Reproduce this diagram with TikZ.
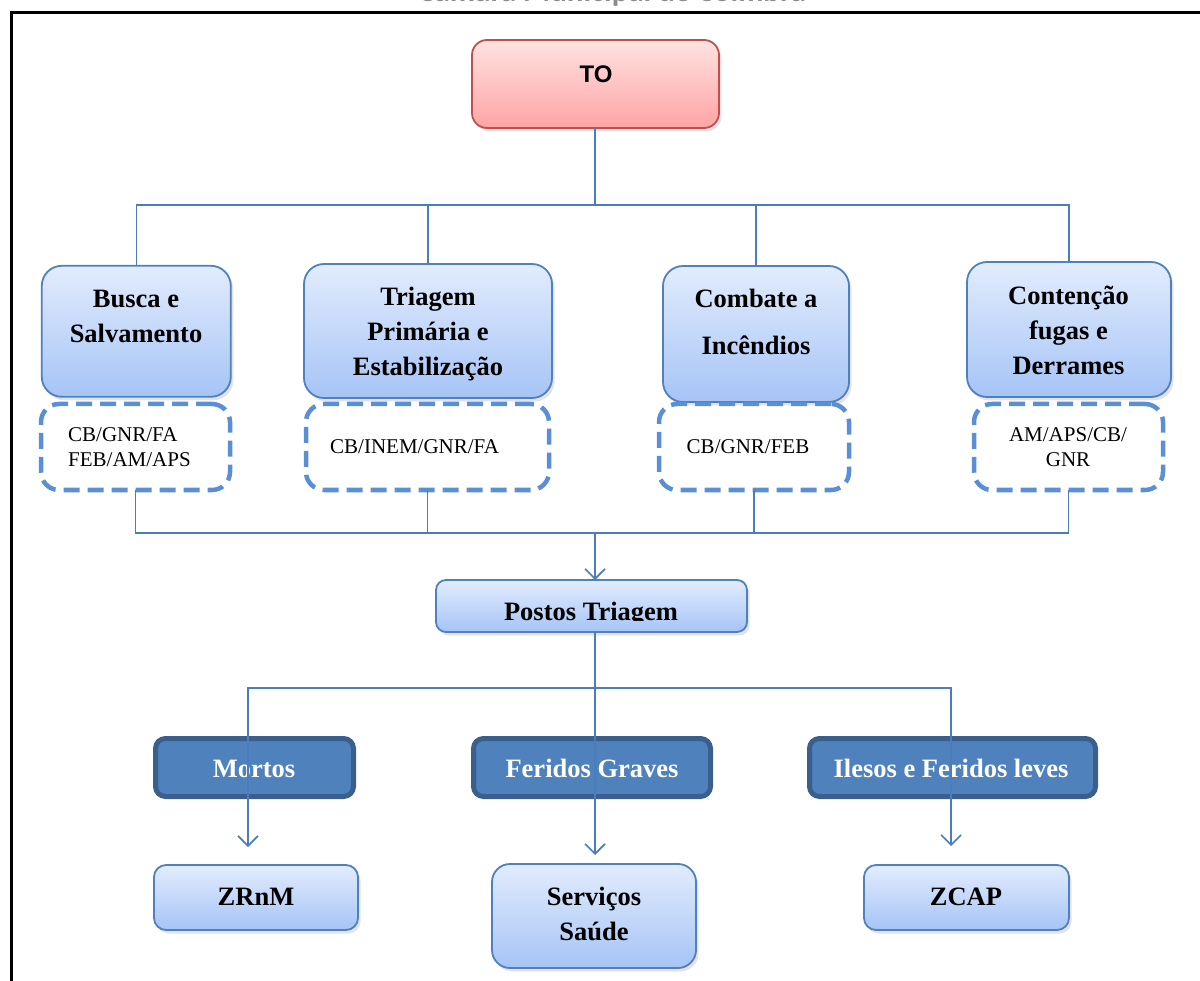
\documentclass[tikz,border=0pt]{standalone}
\usepackage{fontspec}
\setmainfont{Liberation Serif}
\newfontfamily\arialfont{Liberation Sans}
\newfontfamily\calfont{Carlito}
\usetikzlibrary{arrows.meta,shadows}

\definecolor{boxtop}{HTML}{E2ECFD}
\definecolor{boxbot}{HTML}{A6C4F6}
\definecolor{edgeblue}{HTML}{4F81BD}
\definecolor{pinktop}{HTML}{FFE2E2}
\definecolor{pinkbot}{HTML}{FFA4A4}
\definecolor{pinkedge}{HTML}{C0504D}
\definecolor{dashblue}{HTML}{5A8FD6}
\definecolor{darkfill}{HTML}{4F81BD}
\definecolor{darkedge}{HTML}{3A5F8C}
\definecolor{linkblue}{HTML}{4A7EBB}
\definecolor{titlegray}{HTML}{8C8C8C}

% multi-line text whose reference point is the baseline of the first line
\newcommand\clines[1]{\begin{tabular}[t]{@{}c@{}}#1\end{tabular}}
\newcommand\llines[1]{\begin{tabular}[t]{@{}l@{}}#1\end{tabular}}

\begin{document}
\begin{tikzpicture}[x=1pt,y=-1pt,
  softshadow/.style={drop shadow={shadow xshift=2.5pt,shadow yshift=-3.5pt,opacity=0.22}},
  lbox/.style={draw=edgeblue,line width=1.8pt,rounded corners=#1,
    top color=boxtop,bottom color=boxbot,softshadow,inner sep=0pt,outer sep=0pt},
  tobox/.style={draw=pinkedge,line width=1.8pt,rounded corners=15,
    top color=pinktop,bottom color=pinkbot,softshadow,inner sep=0pt,outer sep=0pt},
  dashbox/.style={draw=dashblue,line width=4.5pt,dash pattern=on 16pt off 8pt,
    rounded corners=18,inner sep=0pt,outer sep=0pt},
  dkbox/.style={draw=darkedge,fill=darkfill,line width=5pt,rounded corners=10,
    inner sep=0pt,outer sep=0pt},
  btxt/.style={anchor=base,inner sep=0pt,font=\bfseries\fontsize{26.5}{35}\selectfont},
  wtxt/.style={btxt,text=white},
  stxt/.style={anchor=base,inner sep=0pt,font=\fontsize{21}{25}\selectfont},
  conn/.style={draw=linkblue,line width=1.6pt},
  arr/.style={conn,-{Straight Barb[length=10pt,width=20pt]}}
]
\useasboundingbox (0,0) rectangle (1200,981);
\clip (0,0) rectangle (1200,981);

% heading above the frame, cut by the page edge
\node[anchor=base,inner sep=0pt,text=titlegray,font=\calfont\bfseries\fontsize{31}{31}\selectfont]
  (title) at (612,2) {Câmara Municipal de Coimbra};

% frame
\draw[line width=3pt] (11,990) -- (11,13) -- (1210,13);

% top box
\node[tobox,minimum width=247,minimum height=88] (to) at (595.5,84) {};
\node[btxt,font=\arialfont\bfseries\fontsize{24}{28}\selectfont] (toT) at (596,83) {TO};

% task boxes
\node[lbox=20,minimum width=189,minimum height=131] (busca) at (136.3,331.3) {};
\node[btxt] (buscaT) at (136,308) {\clines{Busca e\\Salvamento}};

\node[lbox=20,minimum width=248,minimum height=134] (triagem) at (428,331) {};
\node[btxt] (triagemT) at (428,306) {\clines{Triagem\\Primária e\\Estabilização}};

\node[lbox=20,minimum width=186,minimum height=136] (combate) at (756,334) {};
\node[btxt] (combateT) at (756,308) {\clines{Combate a\\[12pt]Incêndios}};

\node[lbox=20,minimum width=204,minimum height=135] (contencao) at (1069,329.5) {};
\node[btxt] (contencaoT) at (1068.5,305) {\clines{Contenção\\fugas e\\Derrames}};

% agencies
\node[dashbox,minimum width=189,minimum height=86] (buscaD) at (135.5,447) {};
\node[stxt,anchor=base west] (buscaDT) at (68,441.7) {\llines{CB/GNR/FA\\FEB/AM/APS}};

\node[dashbox,minimum width=243,minimum height=86] (triagemD) at (427.5,447) {};
\node[stxt,anchor=base west] (triagemDT) at (330,454) {CB/INEM/GNR/FA};

\node[dashbox,minimum width=190,minimum height=86] (combateD) at (754,447) {};
\node[stxt] (combateDT) at (748,454) {CB/GNR/FEB};

\node[dashbox,minimum width=189,minimum height=86] (contencaoD) at (1068.5,447) {};
\node[stxt] (contencaoDT) at (1068,441.7) {\clines{AM/APS/CB/\\GNR}};

% triage posts
\node[lbox=10,minimum width=311,minimum height=52] (postos) at (591.5,606) {};
\begin{scope}
  \clip (436,578) rectangle (747,620.5);
  \node[btxt] (postosT) at (591,620) {Postos Triagem};
\end{scope}

% victim categories
\node[dkbox,minimum width=198,minimum height=58] (mortos) at (254.5,767.5) {};
\node[wtxt] (mortosT) at (254,777) {Mortos};
\node[dkbox,minimum width=237,minimum height=58] (feridos) at (592,767.5) {};
\node[wtxt] (feridosT) at (592,777) {Feridos Graves};
\node[dkbox,minimum width=286,minimum height=58] (ilesos) at (952.5,767.5) {};
\node[wtxt] (ilesosT) at (951,777) {Ilesos e Feridos leves};

% destinations
\node[lbox=12,minimum width=204,minimum height=65] (zrnm) at (256,897.5) {};
\node[btxt] (zrnmT) at (256,905) {ZRnM};
\node[lbox=18,minimum width=204,minimum height=104] (servicos) at (594,916) {};
\node[btxt] (servicosT) at (594,905) {\clines{Serviços\\Saúde}};
\node[lbox=12,minimum width=205,minimum height=65] (zcap) at (966.5,897.5) {};
\node[btxt] (zcapT) at (966,905) {ZCAP};

% junction points
\coordinate (bar1) at (595,205);
\coordinate (bar2) at (595,533);
\coordinate (bar3) at (595,688);
\coordinate (tipZ) at (248,847);
\coordinate (tipS) at (595,855);
\coordinate (tipC) at (951,846);

% connectors
\draw[conn] (to.south -| bar1) -- (bar1);
\draw[conn] (busca.north) |- (bar1);
\draw[conn] (contencao.north) |- (bar1);
\draw[conn] (triagem.north) -- (triagem.north |- bar1);
\draw[conn] (combate.north) -- (combate.north |- bar1);

\draw[conn] (buscaD.south) |- (bar2);
\draw[conn] (contencaoD.south) |- (bar2);
\draw[conn] (triagemD.south) -- (triagemD.south |- bar2);
\draw[conn] (combateD.south) -- (combateD.south |- bar2);
\draw[arr] (bar2) -- (bar2 |- postos.north);

\draw[conn] (postos.south -| bar3) -- (bar3);
\draw[arr] (bar3) -| (tipZ);
\draw[arr] (bar3) -| (tipC);
\draw[arr] (bar3) -- (tipS);
\end{tikzpicture}
\end{document}
